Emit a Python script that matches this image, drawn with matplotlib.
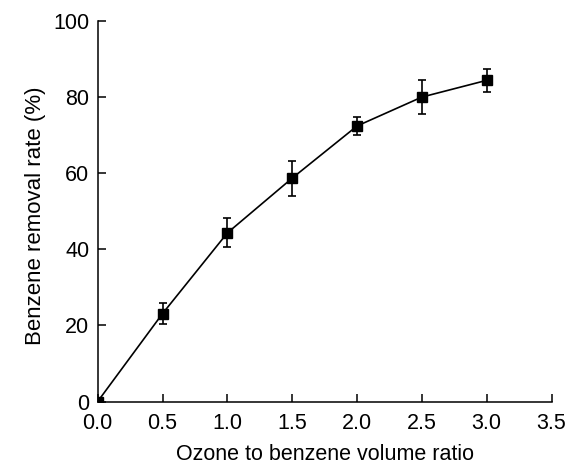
import matplotlib
matplotlib.use("Agg")
import matplotlib.pyplot as plt

plt.rcParams['font.family'] = ['Liberation Sans', 'DejaVu Sans']

# ozone : benzene volume ratio vs. benzene removal (%)
ratio = [0.0, 0.5, 1.0, 1.5, 2.0, 2.5, 3.0]
removal = [0.0, 23.1, 44.3, 58.7, 72.4, 80.0, 84.4]
err = [0.0, 2.7, 3.8, 4.6, 2.4, 4.4, 3.1]

xticks = [0.0, 0.5, 1.0, 1.5, 2.0, 2.5, 3.0, 3.5]
xlabels = ['0.0', '0.5', '1.0', '1.5', '2.0', '2.5', '3.0', '3.5']
yticks = [0, 20, 40, 60, 80, 100]

fig = plt.figure(figsize=(5.68, 4.66), dpi=100)
ax = fig.add_axes([0.172, 0.1384, 0.799, 0.8166])

ax.plot(ratio, removal, color='black', linewidth=1.2, zorder=2)
ax.errorbar(ratio[1:], removal[1:], yerr=err[1:], fmt='s', color='black',
            markersize=6.5, capsize=3, elinewidth=1.2, capthick=1.2, zorder=3)
ax.plot(ratio[:1], removal[:1], 's', color='black', markersize=6.5, zorder=3)

ax.set_xlim(0, 3.5)
ax.set_ylim(0, 100)
ax.set_xticks(xticks)
ax.set_xticklabels(xlabels)
ax.set_yticks(yticks)

for s in ['top', 'right']:
    ax.spines[s].set_visible(False)
for s in ['left', 'bottom']:
    ax.spines[s].set_linewidth(1.1)

ax.tick_params(direction='in', length=6, width=1.1, labelsize=15.5)
ax.tick_params(axis='x', pad=8)
ax.tick_params(axis='y', pad=6)
ax.set_xlabel('Ozone to benzene volume ratio', fontsize=15.5)
ax.set_ylabel('Benzene removal rate (%)', fontsize=16)
ax.xaxis.set_label_coords(0.5, -0.138)
ax.yaxis.set_label_coords(-0.136, 0.4875)
ax.xaxis.label.set_va('center')
ax.yaxis.label.set_va('center')

fig.savefig('out.png', dpi=100)
